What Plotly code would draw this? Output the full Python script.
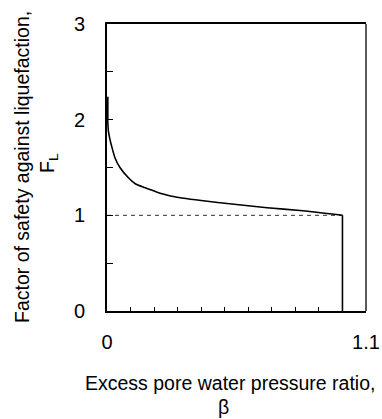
import plotly.graph_objects as go

# Factor of safety F_L versus excess pore water pressure ratio beta
beta = [0.003, 0.003, 0.006, 0.012, 0.02, 0.034, 0.055, 0.09, 0.12, 0.16, 0.21,
        0.275, 0.40, 0.54, 0.68, 0.82, 1.0, 1.0]
fl = [2.24, 2.0, 1.88, 1.80, 1.72, 1.60, 1.50, 1.395, 1.33, 1.29, 1.245,
      1.20, 1.155, 1.115, 1.08, 1.05, 1.0, 0.0]

# Reference level F_L = 1
ref_beta = [0.0, 1.0]
ref_fl = [1.0, 1.0]

x_tickvals = [round(0.1 * i, 1) for i in range(12)]
x_ticktext = ["0"] + [""] * 10 + ["1.1"]
y_tickvals = [0, 0.5, 1, 1.5, 2, 2.5, 3]
y_ticktext = ["0", "", "1", "", "2", "", "3"]

FONT = "Liberation Sans, Arial, sans-serif"

fig = go.Figure()
fig.add_trace(go.Scatter(x=ref_beta, y=ref_fl, mode="lines",
                         line=dict(color="#333333", width=1, dash="4px,4px"),
                         hoverinfo="skip"))
# smooth decay portion
fig.add_trace(go.Scatter(x=beta[1:-1], y=fl[1:-1], mode="lines",
                         line=dict(color="black", width=1.6, shape="spline", smoothing=0.6)))
# straight segments: initial jump and final drop to zero
fig.add_trace(go.Scatter(x=beta[:2], y=fl[:2], mode="lines",
                         line=dict(color="black", width=1.8)))
fig.add_trace(go.Scatter(x=beta[-2:], y=fl[-2:], mode="lines",
                         line=dict(color="black", width=1.6)))

fig.update_layout(
    width=382, height=419,
    margin=dict(l=107, r=16, t=24, b=108),
    paper_bgcolor="white", plot_bgcolor="white",
    showlegend=False,
    font=dict(family=FONT, size=20, color="black"),
    xaxis=dict(range=[0, 1.1], tickvals=x_tickvals, ticktext=x_ticktext,
               ticks="inside", ticklen=4, tickwidth=1, tickcolor="black",
               showline=True, linecolor="black", linewidth=1.5, mirror=True,
               showgrid=False, zeroline=False, ticklabelstandoff=12,
               automargin=False, tickfont=dict(size=20)),
    yaxis=dict(range=[0, 3], tickvals=y_tickvals, ticktext=y_ticktext,
               ticks="inside", ticklen=6, tickwidth=1, tickcolor="black",
               showline=True, linecolor="black", linewidth=2, mirror=False,
               showgrid=False, zeroline=False, ticklabelstandoff=16,
               automargin=False, tickfont=dict(size=20)),
    shapes=[dict(type="line", xref="paper", yref="paper", x0=1, x1=1, y0=0, y1=1,
                 line=dict(color="black", width=1.3))],
)

title_font = dict(family=FONT, size=19.5, color="black")
fig.add_annotation(text="Factor of safety against liquefaction,", xref="paper", yref="paper",
                   x=0, y=0, xshift=-85, yshift=144, textangle=-90, showarrow=False,
                   xanchor="center", yanchor="middle", font=title_font)
fig.add_annotation(text="F<sub>L</sub>", xref="paper", yref="paper",
                   x=0, y=0, xshift=-59, yshift=148, textangle=-90, showarrow=False,
                   xanchor="center", yanchor="middle", font=title_font)
fig.add_annotation(text="Excess pore water pressure ratio,", xref="paper", yref="paper",
                   x=0, y=0, xshift=123, yshift=-72, showarrow=False,
                   xanchor="center", yanchor="middle", font=title_font)
fig.add_annotation(text="β", xref="paper", yref="paper",
                   x=0, y=0, xshift=116, yshift=-96, showarrow=False,
                   xanchor="center", yanchor="middle", font=title_font)

fig.write_html("out.html")
